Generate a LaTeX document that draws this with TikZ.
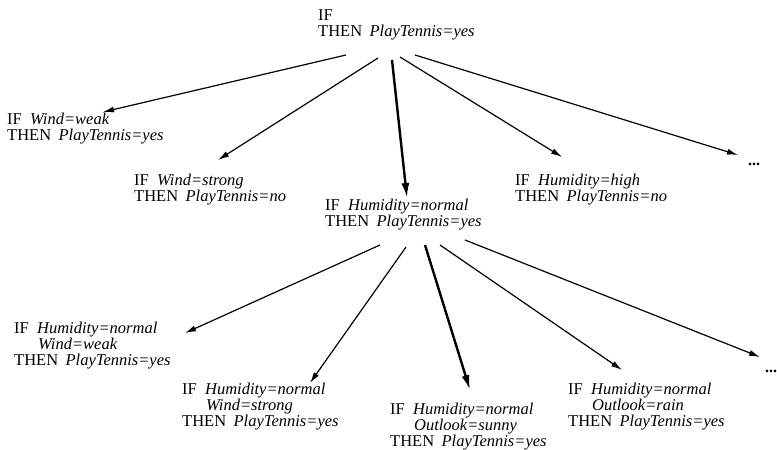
\documentclass[tikz,border=0pt]{standalone}
\usepackage{fontspec}
\setmainfont{Liberation Serif}
\usetikzlibrary{arrows.meta}

\newcommand{\rIF}{IF\hspace{.5em}}
\newcommand{\rAND}{\hspace*{1.45em}}
\newcommand{\rTHEN}{THEN\hspace{.45em}}
\newcommand{\att}[1]{\textit{#1}}

\tikzset{
  rule/.style={anchor=north west, inner sep=0pt, align=left,
               font=\fontsize{16.5}{16}\selectfont},
  more/.style={anchor=base west, inner sep=0pt,
               font=\fontsize{16}{16}\selectfont\bfseries},
  spec/.style={-{Latex[length=11pt,width=6pt]}, line width=1.2pt},
  best/.style={-{Latex[length=15pt,width=8pt]}, line width=2.4pt},
}

\begin{document}
\begin{tikzpicture}[x=1pt,y=-1pt]
  \useasboundingbox (0,0) rectangle (777,450);

  % most general rule
  \node[rule] (root) at (318,9) {IF\\ \rTHEN\att{PlayTennis=yes}};

  % first specialisations
  \node[rule] (wweak)   at (7,113)   {\rIF\att{Wind=weak}\\ \rTHEN\att{PlayTennis=yes}};
  \node[rule] (wstrong) at (134,174) {\rIF\att{Wind=strong}\\ \rTHEN\att{PlayTennis=no}};
  \node[rule] (hnormal) at (325,199) {\rIF\att{Humidity=normal}\\ \rTHEN\att{PlayTennis=yes}};
  \node[rule] (hhigh)   at (515,174) {\rIF\att{Humidity=high}\\ \rTHEN\att{PlayTennis=no}};
  \node[more] (dotsa)   at (748,165) {...};

  % second specialisations
  \node[rule] (hwweak)   at (14,322)  {\rIF\att{Humidity=normal}\\ \rAND\att{Wind=weak}\\ \rTHEN\att{PlayTennis=yes}};
  \node[rule] (hwstrong) at (182,383) {\rIF\att{Humidity=normal}\\ \rAND\att{Wind=strong}\\ \rTHEN\att{PlayTennis=yes}};
  \node[rule] (hosunny)  at (390,403) {\rIF\att{Humidity=normal}\\ \rAND\att{Outlook=sunny}\\ \rTHEN\att{PlayTennis=yes}};
  \node[rule] (horain)   at (568,383) {\rIF\att{Humidity=normal}\\ \rAND\att{Outlook=rain}\\ \rTHEN\att{PlayTennis=yes}};
  \node[more] (dotsb)    at (765,372) {...};

  \draw[spec] ([shift={(28,46)}]root.north west) -- ([shift={(96,-1)}]wweak.north west);
  \draw[spec] ([shift={(60,49)}]root.north west) -- ([shift={(84,-14)}]wstrong.north west);
  \draw[best] ([shift={(74,51)}]root.north west) -- ([shift={(82,-1)}]hnormal.north west);
  \draw[spec] ([shift={(82,48)}]root.north west) -- ([shift={(47,-17)}]hhigh.north west);
  \draw[spec] ([shift={(97,46)}]root.north west) -- ([shift={(-10,-10)}]dotsa.base west);

  \draw[spec] ([shift={(55,46)}]hnormal.north west)  -- ([shift={(171,11)}]hwweak.north west);
  \draw[spec] ([shift={(81,48)}]hnormal.north west)  -- ([shift={(128,0)}]hwstrong.north west);
  \draw[best] ([shift={(100,46)}]hnormal.north west) -- ([shift={(80,-13)}]hosunny.north west);
  \draw[spec] ([shift={(115,46)}]hnormal.north west) -- ([shift={(54,-13)}]horain.north west);
  \draw[spec] ([shift={(140,41)}]hnormal.north west) -- ([shift={(-5,-15)}]dotsb.base west);
\end{tikzpicture}
\end{document}
